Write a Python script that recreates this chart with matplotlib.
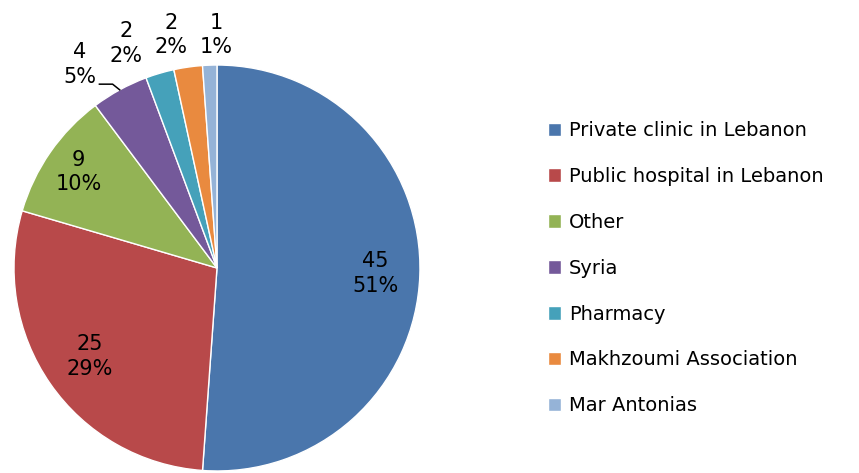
import numpy as np
import matplotlib.pyplot as plt

labels = ['Private clinic in Lebanon', 'Public hospital in Lebanon', 'Other', 'Syria',
          'Pharmacy', 'Makhzoumi Association', 'Mar Antonias']
counts = [45, 25, 9, 4, 2, 2, 1]
pcts = ['51%', '29%', '10%', '5%', '2%', '2%', '1%']
colors = ['#4A76AC', '#B8494A', '#93B355', '#74599A', '#45A1BA', '#E98A3F', '#95B3D7']

plt.rcParams['font.family'] = ['DejaVu Sans']

fig = plt.figure(figsize=(8.59, 4.73), dpi=100)
ax = fig.add_axes([0.0163, 0.0042, 0.4726, 0.8584])

wedges, _ = ax.pie(counts, colors=colors, startangle=90, counterclock=False,
                   radius=1.0, wedgeprops=dict(edgecolor='white', linewidth=1))
ax.set_xlim(-1, 1)
ax.set_ylim(-1, 1)
ax.set_aspect('equal')
ax.axis('off')

# label placement: radius and angle (None = middle of the slice)
label_place = [(0.78, None), (0.765, None), (0.83, None),
               (1.207, 124.0), (1.195, 112.0), (1.17, 101.2), (1.148, 90.2)]

for w, n, p, (r, ang) in zip(wedges, counts, pcts, label_place):
    mid = (w.theta1 + w.theta2) / 2
    a = np.deg2rad(mid if ang is None else ang)
    ax.text(r * np.cos(a), r * np.sin(a), f'{n}\n{p}', ha='center', va='center',
            fontsize=15, linespacing=1.3, clip_on=False)

# leader line for the Syria label
s = wedges[3]
m = np.deg2rad((s.theta1 + s.theta2) / 2)
ex, ey = np.cos(m), np.sin(m)
ax.plot([ex, ex - 0.035, ex - 0.1], [ey, ey + 0.028, ey + 0.028],
        color='black', lw=1.1, clip_on=False)

fig.legend(wedges, labels, loc='center left', bbox_to_anchor=(0.617, 0.433),
           frameon=False, fontsize=14, handlelength=0.7, handleheight=0.7,
           handletextpad=0.4, labelspacing=1.38)

fig.savefig('out.png', dpi=100)
